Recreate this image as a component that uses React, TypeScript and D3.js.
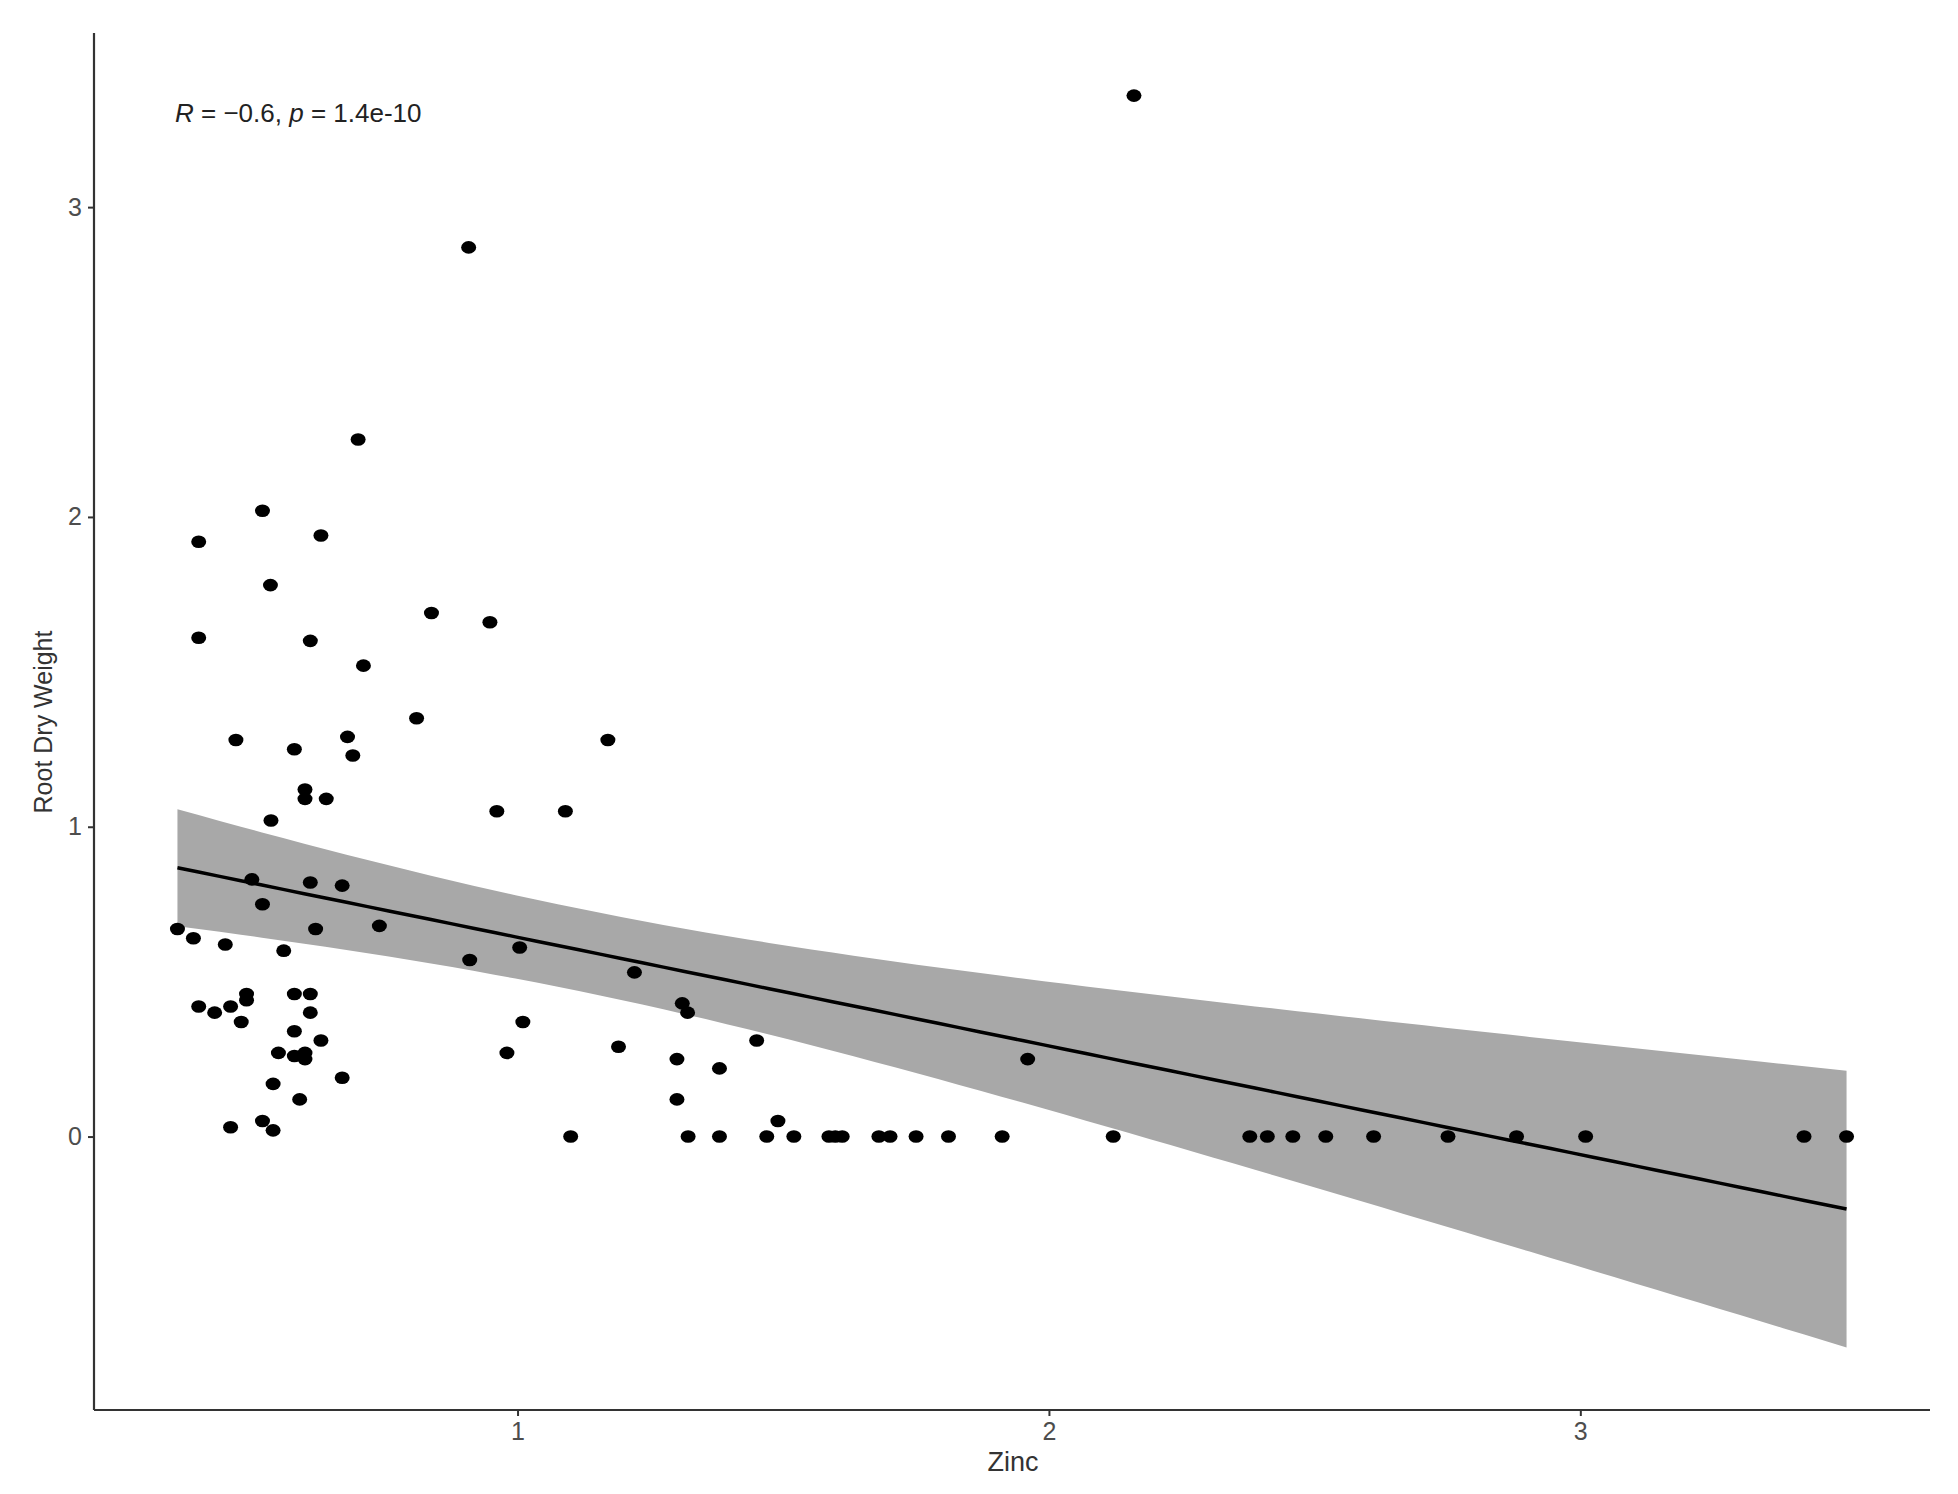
import React, { useEffect, useRef } from 'react';
import * as d3 from 'd3';

// zinc (x) and root dry weight (y)
const zinc = [
  2.16, 0.908, 0.7, 0.52, 0.4, 0.63, 0.535, 0.4, 0.61, 0.838, 0.948, 0.71,
  0.81, 1.17, 0.47, 0.68, 0.58, 0.69, 0.6, 0.6, 0.64, 0.536, 0.961, 1.09,
  0.5, 0.61, 0.67, 0.52, 0.36, 0.62, 0.74, 0.39, 0.45, 0.56, 0.91, 1.004,
  1.22, 0.49, 0.49, 0.58, 0.61, 0.4, 0.43, 0.46, 0.48, 0.61, 0.58, 0.63,
  0.55, 0.58, 0.6, 0.6, 1.01, 0.98, 1.19, 0.67, 0.54, 0.59, 0.46, 0.52,
  0.54, 1.31, 1.32, 1.45, 1.3, 1.38, 1.3, 1.96, 1.49,
  1.1, 1.321, 1.38, 1.469, 1.52, 1.586, 1.598, 1.611, 1.68, 1.701, 1.75,
  1.811, 1.912, 2.121, 2.378, 2.411, 2.459, 2.521, 2.611, 2.751, 2.88,
  3.01, 3.421, 3.501,
];
const rootDryWeight = [
  3.36, 2.87, 2.25, 2.02, 1.92, 1.94, 1.78, 1.61, 1.6, 1.69, 1.66, 1.52,
  1.35, 1.28, 1.28, 1.29, 1.25, 1.23, 1.12, 1.09, 1.09, 1.02, 1.05, 1.05,
  0.83, 0.82, 0.81, 0.75, 0.67, 0.67, 0.68, 0.64, 0.62, 0.6, 0.57, 0.61,
  0.53, 0.46, 0.44, 0.46, 0.46, 0.42, 0.4, 0.42, 0.37, 0.4, 0.34, 0.31,
  0.27, 0.26, 0.27, 0.25, 0.37, 0.27, 0.29, 0.19, 0.17, 0.12, 0.03, 0.05,
  0.02, 0.43, 0.4, 0.31, 0.25, 0.22, 0.12, 0.25, 0.05,
  0, 0, 0, 0, 0, 0, 0, 0, 0, 0, 0,
  0, 0, 0, 0, 0, 0, 0, 0, 0, 0,
  0, 0, 0,
];
const xTicks = [1, 2, 3];
const yTicks = [0, 1, 2, 3];
const corLabel = { r: '\u22120.6', p: '1.4e-10' };

const W = 1958;
const H = 1494;
const FONT = '"Liberation Sans", Arial, Helvetica, sans-serif';

const App = () => {
  const ref = useRef<SVGSVGElement>(null);

  useEffect(() => {
    draw();
  }, []);

  const draw = () => {
    const svg = d3.select(ref.current);
    svg.selectAll('*').remove();

    const pts = zinc.map((x, i) => ({ x, y: rootDryWeight[i] }));

    // linear fit with 95% confidence band (like geom_smooth(method = "lm"))
    const n = pts.length;
    const mx = d3.mean(pts, d => d.x)!;
    const my = d3.mean(pts, d => d.y)!;
    const sxx = d3.sum(pts, d => (d.x - mx) ** 2);
    const sxy = d3.sum(pts, d => (d.x - mx) * (d.y - my));
    const slope = sxy / sxx;
    const icpt = my - slope * mx;
    const sse = d3.sum(pts, d => (d.y - icpt - slope * d.x) ** 2);
    const s = Math.sqrt(sse / (n - 2));
    const tq = 1.986;
    const [x0, x1] = d3.extent(zinc) as [number, number];
    const fit = d3.range(80).map(i => {
      const x = x0 + ((x1 - x0) * i) / 79;
      const yhat = icpt + slope * x;
      const se = s * Math.sqrt(1 / n + (x - mx) ** 2 / sxx);
      return { x, y: yhat, lo: yhat - tq * se, hi: yhat + tq * se };
    });

    // ggplot-style 5% expansion
    const yMin = Math.min(d3.min(rootDryWeight)!, d3.min(fit, d => d.lo)!);
    const yMax = Math.max(d3.max(rootDryWeight)!, d3.max(fit, d => d.hi)!);
    const xPad = (x1 - x0) * 0.05;
    const yPad = (yMax - yMin) * 0.05;

    const left = 94, right = 1930, top = 33, bottom = 1410;
    const xScale = d3.scaleLinear().domain([x0 - xPad, x1 + xPad]).range([left, right]);
    const yScale = d3.scaleLinear().domain([yMin - yPad, yMax + yPad]).range([bottom, top]);

    // band
    svg.append('path')
      .datum(fit)
      .attr('d', d3.area<any>().x(d => xScale(d.x)).y0(d => yScale(d.lo)).y1(d => yScale(d.hi)))
      .attr('fill', '#a8a8a8');

    // fitted line
    svg.append('path')
      .datum(fit)
      .attr('d', d3.line<any>().x(d => xScale(d.x)).y(d => yScale(d.y)))
      .attr('fill', 'none')
      .attr('stroke', '#000')
      .attr('stroke-width', 3.5);

    // points
    svg.append('g')
      .selectAll('ellipse')
      .data(pts)
      .enter()
      .append('ellipse')
      .attr('cx', d => xScale(d.x))
      .attr('cy', d => yScale(d.y))
      .attr('rx', 7.5)
      .attr('ry', 6.3)
      .attr('fill', '#000');

    // axes
    const xAxis = svg.append('g')
      .attr('transform', `translate(0,${bottom})`)
      .call(d3.axisBottom(xScale).tickValues(xTicks).tickFormat(d3.format('d')).tickSizeOuter(0).tickSize(6).tickPadding(6));
    const yAxis = svg.append('g')
      .attr('transform', `translate(${left},0)`)
      .call(d3.axisLeft(yScale).tickValues(yTicks).tickFormat(d3.format('d')).tickSizeOuter(0).tickSize(6).tickPadding(6));

    [xAxis, yAxis].forEach(g => {
      g.select('.domain').attr('stroke', '#333').attr('stroke-width', 2.2);
      g.selectAll('.tick line').attr('stroke', '#333').attr('stroke-width', 2);
      g.selectAll('.tick text')
        .attr('font-family', FONT)
        .attr('font-size', 25)
        .attr('fill', '#4d4d4d');
    });
    // axis lines run the whole panel
    xAxis.select('.domain').attr('d', `M${left},0H${right}`);
    yAxis.select('.domain').attr('d', `M0,${top}V${bottom}`);

    // axis titles
    svg.append('text')
      .attr('x', (left + right) / 2 + 1)
      .attr('y', 1471)
      .attr('text-anchor', 'middle')
      .attr('font-family', FONT)
      .attr('font-size', 27)
      .attr('fill', '#333')
      .text('Zinc');
    svg.append('text')
      .attr('transform', `translate(52,${722}) rotate(-90)`)
      .attr('text-anchor', 'middle')
      .attr('font-family', FONT)
      .attr('font-size', 25)
      .attr('fill', '#333')
      .text('Root Dry Weight');

    // correlation label
    const lab = svg.append('text')
      .attr('x', 175)
      .attr('y', 122)
      .attr('font-family', FONT)
      .attr('font-size', 26)
      .attr('fill', '#222');
    lab.append('tspan').attr('font-style', 'italic').text('R');
    lab.append('tspan').text(` = ${corLabel.r}, `);
    lab.append('tspan').attr('font-style', 'italic').text('p');
    lab.append('tspan').text(` = ${corLabel.p}`);
  };

  return (
    <svg
      ref={ref}
      width={W}
      height={H}
      style={{ position: 'absolute', left: 0, top: 0, background: '#fff' }}
    />
  );
};

export default App;
